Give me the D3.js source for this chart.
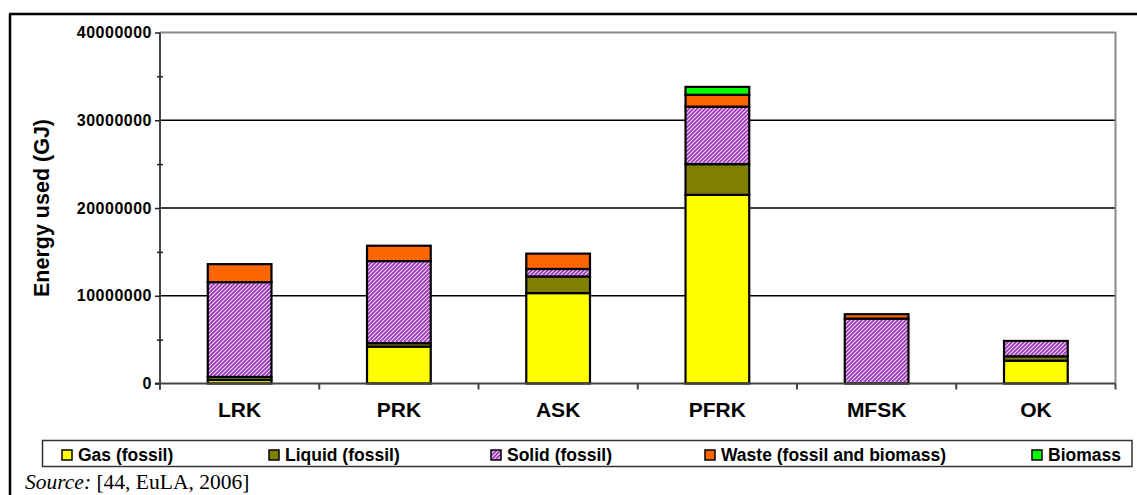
<!DOCTYPE html>
<html>
<head>
<meta charset="utf-8">
<script src="https://cdn.jsdelivr.net/npm/d3@7"></script>
<style>
  html, body { margin: 0; padding: 0; background: #fff; }
  svg { display: block; }
</style>
</head>
<body>
<svg id="chart" width="1137" height="495"></svg>
<script>
// ---- data ----
const categories = ["LRK", "PRK", "ASK", "PFRK", "MFSK", "OK"];
const gasFossil    = [400000, 4200000, 10300000, 21500000, 0, 2600000];
const liquidFossil = [350000, 400000, 1900000, 3500000, 0, 500000];
const solidFossil  = [10800000, 9350000, 850000, 6550000, 7400000, 1750000];
const waste        = [2050000, 1750000, 1750000, 1350000, 500000, 0];
const biomass      = [0, 0, 0, 900000, 0, 0];
const seriesNames  = ["Gas (fossil)", "Liquid (fossil)", "Solid (fossil)", "Waste (fossil and biomass)", "Biomass"];
const yTicks       = [0, 10000000, 20000000, 30000000, 40000000];
const yMinorTicks  = [5000000, 15000000, 25000000, 35000000];

// ---- layout ----
const W = 1137, H = 495;
const plot = { left: 160, right: 1115.5, top: 32.5, bottom: 383.5 };
const svg = d3.select("#chart");

const defs = svg.append("defs");
const pat = defs.append("pattern").attr("id", "hatch")
  .attr("patternUnits", "userSpaceOnUse").attr("width", 4).attr("height", 4);
pat.append("rect").attr("width", 4).attr("height", 4).attr("fill", "#9933bb");
pat.append("path").attr("d", "M-1,1 l2,-2 M0,4 l4,-4 M3,5 l2,-2")
  .attr("stroke", "#f4dcf4").attr("stroke-width", 1.2);

const colors = ["#ffff00", "#808000", "url(#hatch)", "#ff6600", "#00ff00"];
const seriesValues = [gasFossil, liquidFossil, solidFossil, waste, biomass];

// outer frame (left and top edges)
svg.append("line").attr("x1", 10).attr("x2", 10).attr("y1", 14).attr("y2", H + 5)
  .attr("stroke", "#000").attr("stroke-width", 2.5);
svg.append("line").attr("x1", 9).attr("x2", W + 5).attr("y1", 14).attr("y2", 14)
  .attr("stroke", "#000").attr("stroke-width", 2.5);

const x = d3.scaleBand().domain(categories).range([plot.left, plot.right])
  .paddingInner(0.6).paddingOuter(0.3);
const y = d3.scaleLinear().domain([0, 40000000]).range([plot.bottom, plot.top]);

// gridlines
svg.append("g").selectAll("line").data(yTicks.filter(d => d > 0 && d < 40000000)).join("line")
  .attr("x1", plot.left).attr("x2", plot.right)
  .attr("y1", d => y(d)).attr("y2", d => y(d))
  .attr("stroke", "#000").attr("stroke-width", 1.3);

// plot area top/right border (gray)
svg.append("path")
  .attr("d", `M${plot.left},${plot.top} H${plot.right} V${plot.bottom}`)
  .attr("fill", "none").attr("stroke", "#8a8a8a").attr("stroke-width", 2);

// stacked bars
const rows = categories.map((c, i) => {
  const r = { cat: c };
  seriesNames.forEach((s, j) => r[s] = seriesValues[j][i]);
  return r;
});
const stacked = d3.stack().keys(seriesNames)(rows);
stacked.forEach((layer, j) => {
  svg.append("g").selectAll("rect").data(layer.filter(d => d[1] - d[0] > 0)).join("rect")
    .attr("x", d => x(d.data.cat))
    .attr("width", x.bandwidth())
    .attr("y", d => y(d[1]))
    .attr("height", d => y(d[0]) - y(d[1]))
    .attr("fill", colors[j])
    .attr("stroke", "#000").attr("stroke-width", 2.2);
});

// axes lines
svg.append("line").attr("x1", plot.left).attr("x2", plot.left).attr("y1", plot.top).attr("y2", plot.bottom + 6)
  .attr("stroke", "#444").attr("stroke-width", 2);
svg.append("line").attr("x1", plot.left - 5).attr("x2", plot.right).attr("y1", plot.bottom).attr("y2", plot.bottom)
  .attr("stroke", "#444").attr("stroke-width", 2);

// y axis major ticks + labels
const yAxis = svg.append("g").attr("transform", `translate(${plot.left},0)`)
  .call(d3.axisLeft(y).tickValues(yTicks).tickSize(5).tickPadding(3).tickFormat(d3.format("d")));
yAxis.select(".domain").remove();
yAxis.selectAll("line").attr("stroke", "#222").attr("stroke-width", 1.5);
yAxis.selectAll("text").attr("font-family", "Liberation Sans, Arial, sans-serif")
  .attr("font-weight", "bold").attr("font-size", 16).attr("letter-spacing", 0.5).attr("fill", "#000");

// y axis minor ticks (crossing)
const yMinor = svg.append("g").attr("transform", `translate(${plot.left + 3},0)`)
  .call(d3.axisLeft(y).tickValues(yMinorTicks).tickSize(6).tickFormat(""));
yMinor.select(".domain").remove();
yMinor.selectAll("line").attr("stroke", "#222").attr("stroke-width", 1.5);

// x axis ticks at category boundaries
const boundaryX = d3.range(categories.length + 1).map(i => plot.left + i * x.step());
svg.append("g").selectAll("line").data(boundaryX).join("line")
  .attr("x1", d => d).attr("x2", d => d).attr("y1", plot.bottom).attr("y2", plot.bottom + 6)
  .attr("stroke", "#444").attr("stroke-width", 2);

// x labels
svg.append("g").selectAll("text").data(categories).join("text")
  .attr("x", d => x(d) + x.bandwidth() / 2)
  .attr("y", 416.5)
  .attr("text-anchor", "middle")
  .attr("font-family", "Liberation Sans, Arial, sans-serif")
  .attr("font-weight", "bold").attr("font-size", 21)
  .text(d => d);

// y title
svg.append("text")
  .attr("transform", `translate(48.5,${(plot.top + plot.bottom) / 2}) rotate(-90)`)
  .attr("text-anchor", "middle")
  .attr("font-family", "Liberation Sans, Arial, sans-serif")
  .attr("font-weight", "bold").attr("font-size", 21.5)
  .text("Energy used (GJ)");

// legend
svg.append("rect").attr("x", 42.5).attr("y", 440.5).attr("width", 1089.5).attr("height", 26)
  .attr("fill", "#fff").attr("stroke", "#333").attr("stroke-width", 1.5);
const legendX = [62, 269, 491, 705, 1032];
const lg = svg.append("g").selectAll("g").data(seriesNames).join("g")
  .attr("transform", (d, i) => `translate(${legendX[i]},450)`);
lg.append("rect").attr("width", 10).attr("height", 10)
  .attr("fill", (d, i) => colors[i]).attr("stroke", "#000").attr("stroke-width", 1.5);
lg.append("text").attr("x", 16).attr("y", 11)
  .attr("font-family", "Liberation Sans, Arial, sans-serif")
  .attr("font-weight", "bold").attr("font-size", 17.5)
  .text(d => d);

// source
const src = svg.append("text").attr("x", 25).attr("y", 489)
  .attr("font-family", "Liberation Serif, Times New Roman, serif").attr("font-size", 21.5);
src.append("tspan").attr("font-style", "italic").text("Source:");
src.append("tspan").text(" [44, EuLA, 2006]");
</script>
</body>
</html>
